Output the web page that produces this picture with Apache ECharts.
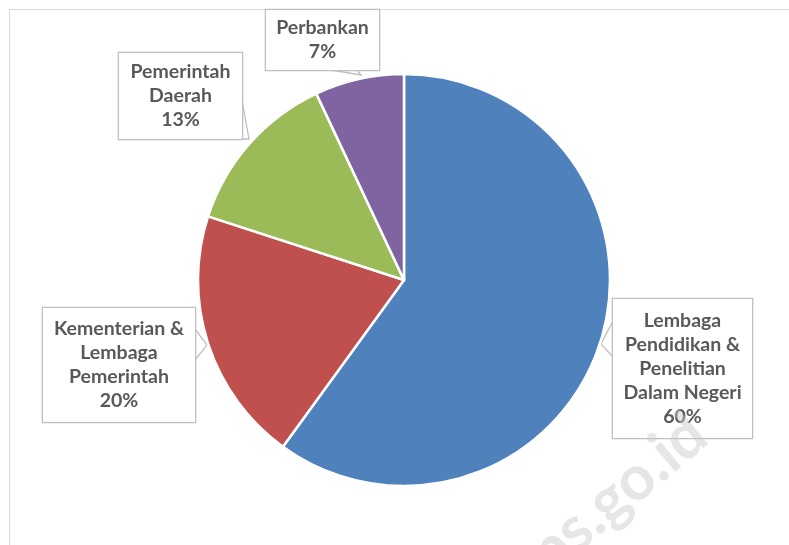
<!DOCTYPE html>
<html>
<head>
<meta charset="utf-8">
<script src="https://cdn.jsdelivr.net/npm/echarts@6/dist/echarts.min.js"></script>
<style>html,body{margin:0;padding:0;background:#fff}</style>
</head>
<body>
<div id="myChart" style="width: 789px; height: 545px"></div>
<script>
const names = ['Lembaga\nPendidikan &\nPenelitian\nDalam Negeri', 'Kementerian &\nLembaga\nPemerintah', 'Pemerintah\nDaerah', 'Perbankan'];
const values = [60, 20, 13, 7];
const colors = ['#4F81BD', '#C0504D', '#9BBB59', '#8064A2'];

// kotak label: pusat x, y, lebar, tinggi, titik penunjuk
const boxes = [
  {x: 682.5, y: 368.5, w: 139, h: 139, line: [[613, 321], [601, 344], [613, 357]]},
  {x: 119, y: 365, w: 152, h: 114, line: [[195, 329], [207, 345], [195, 360]]},
  {x: 180.5, y: 96, w: 123, h: 86, line: [[242, 100], [249, 139], [236, 139]]},
  {x: 322.5, y: 40, w: 113, h: 60, line: [[331, 70], [361, 75], [357, 70]]}
];
const lineH = 24;

let myChart = echarts.init(document.getElementById('myChart'));
myChart.setOption({
  animation: false,
  graphic: [
    {
      type: 'rect', z: -10,
      shape: {x: 9.5, y: 9.5, width: 900, height: 900},
      style: {fill: 'none', stroke: '#d9d9d9', lineWidth: 1}
    },
    {
      type: 'text', z: 100,
      x: 530, y: 608, rotation: 40 * Math.PI / 180,
      style: {text: 'bps.go.id', font: 'bold 62px Lato, sans-serif', fill: 'rgba(200,200,200,0.45)', align: 'left', verticalAlign: 'bottom'}
    }
  ],
  series: [{
    type: 'pie',
    center: [404, 280],
    radius: 206,
    startAngle: 90,
    clockwise: true,
    avoidLabelOverlap: false,
    itemStyle: {borderColor: '#fff', borderWidth: 2.5},
    label: {
      show: true,
      position: 'outside',
      color: '#595959',
      fontFamily: 'Lato, "Open Sans", sans-serif',
      fontWeight: 'bold',
      fontSize: 19.5,
      lineHeight: lineH,
      align: 'center',
      backgroundColor: '#fff',
      borderColor: '#bfbfbf',
      borderWidth: 1.3,
      formatter: (p) => p.name + '\n' + p.value + '%'
    },
    labelLine: {show: true, lineStyle: {color: '#bfbfbf', width: 1.3}},
    labelLayout: (params) => {
      const b = boxes[params.dataIndex];
      return {x: b.x, y: b.y, align: 'center', verticalAlign: 'middle', labelLinePoints: b.line};
    },
    emphasis: {disabled: true},
    data: names.map((n, i) => {
      const b = boxes[i];
      const lines = n.split('\n').length + 1;
      return {
        name: n,
        value: values[i],
        itemStyle: {color: colors[i]},
        label: {width: b.w, padding: [(b.h - lines * lineH) / 2, 0]}
      };
    })
  }]
});
</script>
</body>
</html>
